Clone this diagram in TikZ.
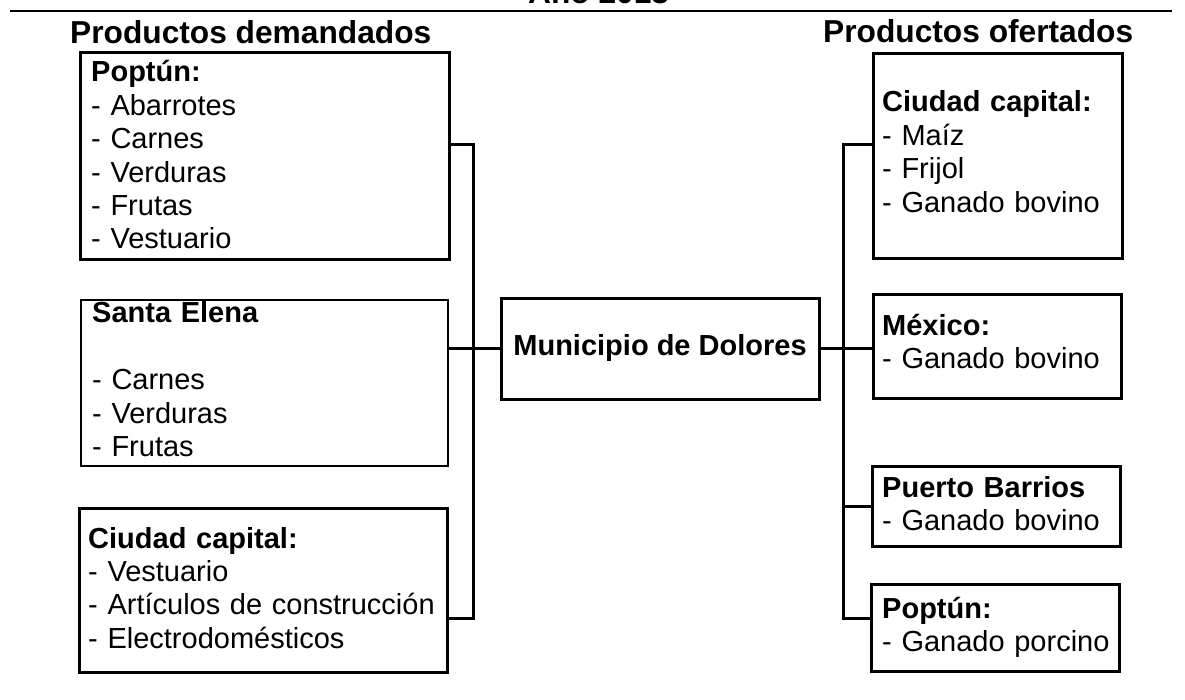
\documentclass[tikz,border=0pt]{standalone}
\usepackage{fontspec}
\setmainfont{Liberation Sans}
\begin{document}
\begin{tikzpicture}[x=1pt,y=-1pt,
  box/.style={draw, line width=2.6pt, inner sep=0pt, anchor=north west},
  thinbox/.style={box, line width=1.6pt},
  txt/.style={anchor=base west, inner sep=0pt, text width=360pt, align=left,
    font=\fontsize{29}{33.4}\selectfont},
  hdr/.style={anchor=base west, inner sep=0pt, font=\fontsize{31.7}{36}\selectfont\bfseries},
  link/.style={line width=3pt},
  rulestyle/.style={line width=1.5pt}]
\useasboundingbox (0,0) rectangle (1185,700);
\clip (0,0) rectangle (1185,700);
% title and rule
\node[hdr] (title) at (528,4) {Año 2013};
\draw[rulestyle] (10,11) -- (1172,11);
\node[hdr] (hl) at (70,44) {Productos demandados};
\node[hdr] (hr) at (823,43) {Productos ofertados};
% left boxes
\node[box, minimum width=369pt, minimum height=207pt] (lp) at (79,51) {};
\node[txt] (lpt) at (91,82) {\textbf{Poptún:}\\- Abarrotes\\- Carnes\\- Verduras\\- Frutas\\- Vestuario};
\node[thinbox, minimum width=367pt, minimum height=166pt] (se) at (80,299) {};
\node[txt] (set) at (92,323) {\textbf{Santa Elena}\\[33.4pt]- Carnes\\- Verduras\\- Frutas};
\node[box, minimum width=368pt, minimum height=164pt] (lc) at (78,507) {};
\node[txt] (lct) at (88,548) {\textbf{Ciudad capital:}\\- Vestuario\\- Artículos de construcción\\- Electrodomésticos};
% center
\node[box, minimum width=318pt, minimum height=101pt] (mun) at (500,297) {};
\node[anchor=base, inner sep=0pt, font=\fontsize{29}{33.4}\selectfont\bfseries] (munt) at (660,355) {Municipio de Dolores};
% right boxes
\node[box, minimum width=249pt, minimum height=205pt] (rc) at (872,52) {};
\node[txt] (rct) at (882,112) {\textbf{Ciudad capital:}\\- Maíz\\- Frijol\\- Ganado bovino};
\node[box, minimum width=248pt, minimum height=104pt] (mx) at (872,293) {};
\node[txt] (mxt) at (882,335) {\textbf{México:}\\- Ganado bovino};
\node[box, minimum width=248pt, minimum height=80pt] (pb) at (871,465) {};
\node[txt] (pbt) at (882,497) {\textbf{Puerto Barrios}\\- Ganado bovino};
\node[box, minimum width=248pt, minimum height=87pt] (rp) at (870,583) {};
\node[txt] (rpt) at (882,618) {\textbf{Poptún:}\\- Ganado porcino};
% connectors
\coordinate (lbt) at (473,145);
\coordinate (lbb) at (473,618);
\coordinate (rbt) at (843,145);
\coordinate (rbb) at (843,618);
\draw[link] (lbt -| lp.east) -- (lbt) -- (lbb) -- (lbb -| lc.east);
\draw[link] (se.east |- mun.west) -- (mun.west);
\draw[link] (rbt -| rc.west) -- (rbt) -- (rbb) -- (rbb -| rp.west);
\draw[link] (mun.east) -- (mun.east -| mx.west);
\draw[link] (pb.west) -- (pb.west -| rbt);
\end{tikzpicture}
\end{document}
